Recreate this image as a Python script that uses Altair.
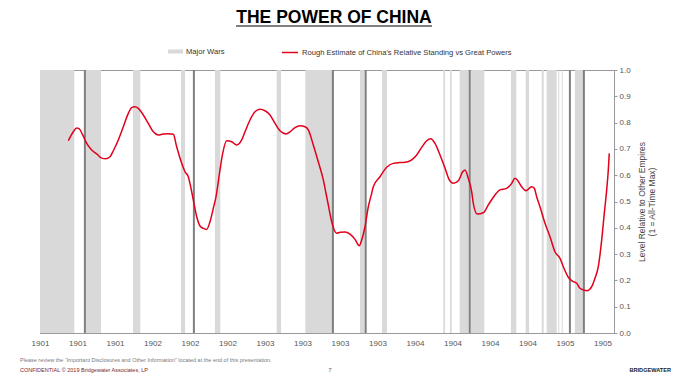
import altair as alt
import pandas as pd

# ---- data ----
x_tick_labels = ["1901", "1901", "1901", "1902", "1902", "1902", "1903", "1903",
                 "1903", "1903", "1904", "1904", "1904", "1904", "1905", "1905"]

line_x = [0.755, 0.888, 0.979, 1.048, 1.139, 1.245, 1.379, 1.512, 1.645, 1.76,
          1.867, 1.955, 2.088, 2.221, 2.355, 2.445, 2.533, 2.621, 2.755, 2.888,
          3.021, 3.155, 3.288, 3.421, 3.555, 3.645, 3.779, 3.867, 3.955, 4.027,
          4.088, 4.179, 4.267, 4.355, 4.445, 4.533, 4.621, 4.693, 4.8, 4.872,
          4.979, 5.112, 5.245, 5.379, 5.467, 5.6, 5.733, 5.867, 6.0, 6.133,
          6.267, 6.4, 6.56, 6.667, 6.8, 6.933, 7.067, 7.155, 7.288, 7.421,
          7.555, 7.645, 7.688, 7.779, 7.912, 8.0, 8.133, 8.267, 8.4, 8.515,
          8.579, 8.667, 8.755, 8.845, 8.888, 9.067, 9.245, 9.421, 9.6, 9.779,
          9.912, 10.045, 10.179, 10.312, 10.419, 10.533, 10.667, 10.8, 10.915, 11.021,
          11.155, 11.272, 11.333, 11.421, 11.512, 11.555, 11.661, 11.821, 11.955, 12.133,
          12.267, 12.445, 12.579, 12.667, 12.728, 12.845, 12.96, 13.112, 13.181, 13.245,
          13.333, 13.467, 13.6, 13.733, 13.867, 13.973, 14.088, 14.221, 14.312, 14.4,
          14.507, 14.595, 14.712, 14.8, 14.888, 14.979, 15.048, 15.112, 15.155, 15.181]
line_y = [0.731, 0.765, 0.779, 0.776, 0.753, 0.721, 0.696, 0.681, 0.665, 0.663,
          0.670, 0.693, 0.734, 0.784, 0.835, 0.857, 0.860, 0.854, 0.829, 0.797,
          0.765, 0.753, 0.757, 0.758, 0.756, 0.708, 0.645, 0.613, 0.594, 0.550,
          0.506, 0.442, 0.407, 0.398, 0.394, 0.423, 0.474, 0.518, 0.620, 0.683,
          0.731, 0.727, 0.715, 0.734, 0.765, 0.810, 0.841, 0.851, 0.845, 0.829,
          0.797, 0.769, 0.757, 0.765, 0.781, 0.788, 0.784, 0.772, 0.715, 0.651,
          0.582, 0.518, 0.487, 0.423, 0.379, 0.383, 0.384, 0.376, 0.356, 0.332,
          0.354, 0.404, 0.480, 0.531, 0.556, 0.594, 0.630, 0.645, 0.648, 0.650,
          0.658, 0.677, 0.706, 0.731, 0.739, 0.721, 0.677, 0.627, 0.582, 0.569,
          0.579, 0.613, 0.620, 0.588, 0.537, 0.493, 0.452, 0.457, 0.487, 0.525,
          0.544, 0.550, 0.569, 0.588, 0.582, 0.556, 0.541, 0.556, 0.550, 0.518,
          0.480, 0.417, 0.366, 0.309, 0.284, 0.246, 0.212, 0.195, 0.189, 0.170,
          0.163, 0.161, 0.176, 0.208, 0.252, 0.354, 0.455, 0.544, 0.620, 0.683]

war_start = [0.0, 1.219, 2.48, 3.76, 4.667, 6.312, 7.075, 8.533, 9.12, 10.755,
             10.933, 11.192, 11.485, 12.56, 12.952, 13.379, 13.512, 13.821, 13.912, 14.267]
war_end = [0.915, 1.627, 2.675, 3.867, 4.808, 6.427, 7.787, 8.659, 9.253, 10.8,
           10.979, 11.432, 11.848, 12.701, 13.04, 13.432, 13.779, 13.848, 13.939, 14.48]

dark_lines = [1.197, 4.104, 7.811, 8.685, 11.459, 14.131, 14.504]

war_label = "Major Wars"
line_label = "Rough Estimate of China's Relative Standing vs Great Powers"
title_text = "THE POWER OF CHINA"
y_title = ["Level Relative to Other Empires", "(1 = All-Time Max)"]
footer_note = "Please review the \u201cImportant Disclosures and Other Information\u201d located at the end of this presentation."
footer_conf = "CONFIDENTIAL \u00a9 2019 Bridgewater Associates, LP"
footer_page = "7"
footer_brand = "BRIDGEWATER"

# ---- tables ----
line_df = pd.DataFrame({"x": line_x, "y": line_y, "series": line_label})
war_df = pd.DataFrame({"start": war_start, "end": war_end, "series": war_label})
dark_df = pd.DataFrame({"x": dark_lines})

W, H = 574, 263
XMAX = 15.307
FONT = "Liberation Sans"

label_expr = "[" + ",".join("'%s'" % s for s in x_tick_labels) + "][datum.value]"
xscale = alt.Scale(domain=[0, XMAX], nice=False, zero=False)
xaxis = alt.Axis(values=list(range(len(x_tick_labels))), labelExpr=label_expr, title=None,
                 grid=False, ticks=False, labelPadding=6, domainColor="#9a9a9a",
                 labelFlush=False, labelOverlap=False,
                 labelFont=FONT, labelFontSize=8, labelColor="#555555")
yscale = alt.Scale(domain=[0, 1], nice=False, zero=True)
yaxis = alt.Axis(orient="right", values=[i / 10 for i in range(11)], format=".1f",
                 grid=False, tickSize=3, tickColor="#9a9a9a", domainColor="#9a9a9a",
                 labelPadding=2, labelFont=FONT, labelFontSize=8, labelFlush=False,
                 labelColor="#555555", title=y_title, titleAngle=270, titleFontWeight="normal",
                 titleFont=FONT, titleFontSize=8.5, titleColor="#444444",
                 titleBaseline="top", titleAlign="center", titleX=23, titleY=H / 2,
                 titleLineHeight=10)

X = alt.X("x:Q", scale=xscale, axis=xaxis)
Y = alt.Y("y:Q", scale=yscale, axis=yaxis)

legend_common = dict(orient="none", padding=0, labelFont=FONT, labelLimit=400,
                     labelFontSize=7.6, labelColor="#333333", title=None, labelOffset=3,
                     direction="horizontal")

wars = alt.Chart(war_df).mark_rect().encode(
    x=alt.X("start:Q", scale=xscale, axis=xaxis),
    x2="end:Q",
    y=alt.Y(datum=0, type="quantitative", scale=yscale, axis=yaxis),
    y2=alt.Y2(datum=1),
    fill=alt.Fill("series:N", scale=alt.Scale(domain=[war_label], range=["#d9d9d9"]),
                  legend=alt.Legend(legendX=128, legendY=-26, symbolType="M-1,-0.27L1,-0.27L1,0.27L-1,0.27Z",
                                    symbolSize=225, symbolStrokeWidth=0, **legend_common)),
)

darks = alt.Chart(dark_df).mark_rule(color="#7f7f7f", strokeWidth=2).encode(
    x=alt.X("x:Q", scale=xscale, axis=xaxis)
)

line = alt.Chart(line_df).mark_line(interpolate="monotone", strokeWidth=1.5).encode(
    x=X, y=Y,
    stroke=alt.Stroke("series:N", scale=alt.Scale(domain=[line_label], range=["#e2001a"]),
                      legend=alt.Legend(legendX=241, legendY=-26.5, symbolType="stroke",
                                        symbolSize=256, symbolStrokeWidth=1.5, **legend_common)),
)

text_df = pd.DataFrame({"t": [0]})
title = alt.Chart(text_df).mark_text(text=title_text, font=FONT, fontSize=17.5,
                                     fontWeight="bold", color="#000000", baseline="alphabetic",
                                     align="center").encode(x=alt.value(294), y=alt.value(-47))
underline = alt.Chart(text_df).mark_rule(color="#000000", strokeWidth=1.2).encode(
    x=alt.value(196), x2=alt.value(392), y=alt.value(-44))

f1 = alt.Chart(text_df).mark_text(text=footer_note, font=FONT, fontSize=5.5,
                                  color="#7a7a7a", align="left", baseline="middle").encode(
    x=alt.value(-20), y=alt.value(290))
f2 = alt.Chart(text_df).mark_text(text=footer_conf, font=FONT, fontSize=5.5,
                                  color="#7b1e2a", align="left", baseline="middle").encode(
    x=alt.value(-20), y=alt.value(300))
f3 = alt.Chart(text_df).mark_text(text=footer_page, font=FONT, fontSize=5.5,
                                  color="#555555", align="center", baseline="middle").encode(
    x=alt.value(290), y=alt.value(300))
f4 = alt.Chart(text_df).mark_text(text=footer_brand, font=FONT, fontSize=5.6,
                                  fontWeight="bold", color="#222222", align="right",
                                  baseline="middle").encode(x=alt.value(631), y=alt.value(300))

chart = alt.layer(wars, darks, line, title, underline, f1, f2, f3, f4).resolve_scale(
    fill="independent", stroke="independent"
).properties(
    width=W, height=H,
    autosize=alt.AutoSizeParams(type="none"),
    padding={"left": 32, "top": 62, "right": 60, "bottom": 41},
    background="#ffffff",
).configure_view(stroke="#9a9a9a", strokeWidth=1)

chart.save("out.html", embed_options={"renderer": "svg", "actions": False})
